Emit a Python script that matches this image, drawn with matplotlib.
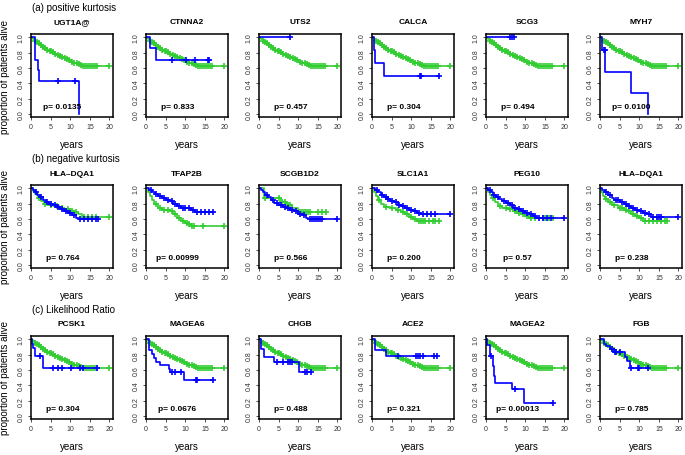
import numpy as np
import matplotlib
matplotlib.use("Agg")
import matplotlib.pyplot as plt

plt.rcParams['font.family'] = ['Liberation Sans', 'DejaVu Sans']

# green reference curve (rest of cohort), rows a and c
ga_t = [0.2, 0.5, 0.9, 1.3, 1.7, 2.1, 2.5, 3.0, 3.5, 4.0, 4.6, 5.3, 5.9, 6.5, 7.1,
        7.7, 8.3, 8.9, 9.5, 10.1, 10.7, 11.3, 11.9, 12.5, 13.0]
ga_s = [0.99, 0.975, 0.96, 0.945, 0.93, 0.915, 0.90, 0.88, 0.86, 0.84, 0.82, 0.805, 0.79,
        0.775, 0.76, 0.745, 0.73, 0.715, 0.70, 0.685, 0.67, 0.66, 0.65, 0.64, 0.625]
ga_c = [1.0, 1.5, 2.0, 2.5, 3.0, 3.6, 4.2, 4.8, 5.2, 5.7, 6.2, 6.8, 7.4, 8.0, 8.6, 9.2,
        9.8, 10.4, 11.0, 11.6, 12.2, 12.8, 13.3, 13.8, 14.3, 14.8, 15.3, 15.8, 16.3, 16.8, 20.0]

titles_a = ["UGT1A@", "CTNNA2", "UTS2", "CALCA", "SCG3", "MYH7"]
pvals_a = ["p= 0.0135", "p= 0.833", "p= 0.457", "p= 0.304", "p= 0.494", "p= 0.0100"]
titles_b = ["HLA\u2013DQA1", "TFAP2B", "SCGB1D2", "SLC1A1", "PEG10", "HLA\u2013DQA1"]
pvals_b = ["p= 0.764", "p= 0.00999", "p= 0.566", "p= 0.200", "p= 0.57", "p= 0.238"]
titles_c = ["PCSK1", "MAGEA6", "CHGB", "ACE2", "MAGEA2", "FGB"]
pvals_c = ["p= 0.304", "p= 0.0676", "p= 0.488", "p= 0.321", "p= 0.00013", "p= 0.785"]

# row a blue curves: event times, survival, censor times
a1_t, a1_s, a1_c = [1.1, 1.8, 2.1, 12.3], [0.71, 0.57, 0.43, 0.0], [6.8, 11.2]
a2_t, a2_s, a2_c = [1.1, 2.5], [0.86, 0.71], [6.5, 10.2, 12.6, 15.8, 16.0]
a3_t, a3_s, a3_c = [], [], [7.8]
a4_t, a4_s, a4_c = [0.6, 0.8, 3.0], [0.83, 0.67, 0.5], [12.3, 12.6, 17.2]
a5_t, a5_s, a5_c = [], [], [6.0, 6.6, 7.2]
a6_t, a6_s, a6_c = [0.5, 1.3, 7.8, 12.3], [0.83, 0.55, 0.28, 0.0], [1.0, 1.2]

# row b: both curves dense
b1g_t = [0.5, 1.0, 1.8, 2.5, 3.2, 4.0, 5.5, 7.0, 8.5, 10.0, 11.0, 12.0, 13.0]
b1g_s = [0.97, 0.93, 0.88, 0.84, 0.80, 0.78, 0.77, 0.75, 0.73, 0.71, 0.69, 0.66, 0.63]
b1g_c = [2.0, 3.5, 5.0, 6.5, 8.0, 9.5, 10.5, 11.5, 13.5, 14.5, 15.5, 16.5, 20.0]
b1b_t = [0.4, 0.9, 1.5, 2.2, 3.0, 3.8, 4.6, 5.5, 6.5, 7.5, 8.5, 9.5, 10.5, 11.5, 12.2]
b1b_s = [0.98, 0.95, 0.92, 0.89, 0.85, 0.82, 0.80, 0.78, 0.76, 0.73, 0.71, 0.68, 0.65, 0.62, 0.60]
b1b_c = [1.2, 2.5, 4.2, 5.0, 6.0, 7.0, 8.0, 9.0, 10.0, 11.0, 12.5, 13.5, 14.5, 15.5, 16.5, 17.0]

b2g_t = [0.5, 1.0, 1.5, 2.0, 3.0, 4.0, 6.0, 7.0, 8.0, 9.0, 10.0, 10.8, 11.5]
b2g_s = [0.95, 0.90, 0.85, 0.80, 0.75, 0.72, 0.70, 0.66, 0.62, 0.58, 0.55, 0.53, 0.51]
b2g_c = [2.5, 3.5, 4.5, 5.5, 6.5, 7.5, 8.5, 9.5, 10.5, 11.0, 11.8, 12.3, 14.5, 20.0]
b2b_t = [0.8, 1.5, 2.2, 3.0, 4.0, 5.0, 6.0, 7.0, 8.0, 9.0, 10.5, 11.5, 12.5]
b2b_s = [0.98, 0.96, 0.93, 0.90, 0.87, 0.85, 0.83, 0.80, 0.77, 0.75, 0.74, 0.72, 0.69]
b2b_c = [1.2, 2.5, 3.5, 4.5, 5.5, 6.5, 7.5, 8.5, 9.5, 10.0, 11.0, 12.0, 13.0, 14.0, 15.0, 16.0, 17.0]

b3g_t = [1.3, 5.5, 7.0, 8.5, 10.0]
b3g_s = [0.88, 0.82, 0.78, 0.74, 0.69]
b3g_c = [1.5, 5.0, 5.8, 6.5, 7.5, 8.0, 10.5, 11.0, 11.5, 12.0, 12.5, 13.0, 15.0, 16.0, 17.0]
b3b_t = [0.4, 0.9, 1.5, 2.2, 3.0, 3.8, 4.8, 6.0, 7.0, 8.0, 9.0, 10.0, 11.0, 12.0, 12.5]
b3b_s = [0.98, 0.95, 0.92, 0.89, 0.85, 0.81, 0.78, 0.76, 0.74, 0.72, 0.70, 0.67, 0.65, 0.62, 0.60]
b3b_c = [2.0, 3.5, 4.5, 5.5, 6.5, 7.5, 8.5, 9.5, 10.5, 11.5, 13.0, 13.5, 14.0, 14.5, 15.0, 15.5, 16.0, 20.0]

b4g_t = [0.5, 1.0, 1.5, 2.2, 3.0, 4.5, 6.0, 7.5, 8.5, 9.5, 10.5, 11.5]
b4g_s = [0.95, 0.90, 0.85, 0.80, 0.76, 0.74, 0.72, 0.69, 0.66, 0.63, 0.60, 0.58]
b4g_c = [1.8, 3.5, 5.0, 6.5, 8.0, 9.0, 10.0, 11.0, 12.0, 12.5, 13.0, 13.5, 14.5, 15.5, 16.0, 17.0]
b4b_t = [0.8, 1.5, 2.2, 3.0, 3.8, 4.6, 5.5, 6.5, 7.5, 8.5, 9.5, 10.5, 11.5, 12.2]
b4b_s = [0.98, 0.95, 0.92, 0.89, 0.86, 0.84, 0.82, 0.79, 0.77, 0.75, 0.72, 0.70, 0.68, 0.66]
b4b_c = [1.2, 2.5, 3.5, 4.2, 5.0, 6.0, 7.0, 8.0, 9.0, 10.0, 11.0, 12.0, 13.0, 14.0, 15.0, 16.0, 20.0]

b5g_t = [0.5, 1.0, 1.5, 2.2, 3.0, 4.0, 5.5, 7.0, 8.0, 9.0, 10.0, 11.0]
b5g_s = [0.95, 0.91, 0.87, 0.82, 0.77, 0.75, 0.73, 0.71, 0.68, 0.66, 0.64, 0.62]
b5g_c = [1.8, 3.5, 5.0, 6.0, 7.5, 8.5, 9.5, 10.5, 11.5, 12.5, 14.5, 15.0, 16.0, 17.0]
b5b_t = [0.6, 1.2, 1.8, 2.5, 3.2, 4.0, 5.0, 6.0, 7.0, 8.0, 9.0, 10.0, 11.0, 12.0, 12.8]
b5b_s = [0.98, 0.95, 0.92, 0.89, 0.86, 0.83, 0.81, 0.78, 0.75, 0.73, 0.71, 0.68, 0.66, 0.64, 0.62]
b5b_c = [1.0, 2.0, 3.0, 4.5, 5.5, 6.5, 7.5, 8.5, 9.5, 10.5, 11.5, 12.5, 13.5, 14.5, 15.5, 16.5, 20.0]

b6g_t = [0.3, 0.7, 1.2, 2.0, 3.0, 4.5, 6.0, 7.0, 8.0, 9.0, 10.0, 11.0]
b6g_s = [0.95, 0.90, 0.86, 0.82, 0.78, 0.75, 0.72, 0.70, 0.67, 0.64, 0.61, 0.58]
b6g_c = [1.5, 2.5, 3.5, 5.0, 5.5, 6.5, 7.5, 8.5, 9.5, 10.5, 11.5, 12.5, 13.5, 14.5, 15.5, 16.5, 17.0]
b6b_t = [0.6, 1.2, 2.0, 3.0, 3.5, 5.0, 6.0, 7.0, 8.0, 9.0, 10.0, 11.0, 12.0, 13.0]
b6b_s = [0.98, 0.95, 0.92, 0.88, 0.85, 0.82, 0.80, 0.77, 0.74, 0.72, 0.70, 0.68, 0.66, 0.63]
b6b_c = [1.5, 2.5, 4.0, 4.5, 5.5, 6.5, 7.5, 8.5, 9.5, 10.5, 11.5, 12.5, 13.5, 14.5, 15.0, 15.5, 20.0]

# row c blue curves
c1_t, c1_s, c1_c = [0.3, 0.5, 1.0, 3.1], [0.94, 0.89, 0.78, 0.63], [2.3, 5.6, 7.0, 7.8, 10.2, 12.6, 13.2, 16.8]
c2_t = [0.8, 1.5, 2.0, 2.5, 3.5, 5.8, 6.2, 9.7]
c2_s = [0.86, 0.81, 0.76, 0.71, 0.67, 0.62, 0.57, 0.47]
c2_c = [6.6, 7.5, 8.8, 12.8, 13.1, 17.0]
c3_t, c3_s, c3_c = [0.5, 1.2, 3.8, 10.2], [0.88, 0.77, 0.71, 0.57], [4.5, 6.0, 7.5, 8.0, 8.3, 11.6, 12.3, 13.2]
c4_t, c4_s, c4_c = [0.8, 3.5], [0.86, 0.78], [6.5, 11.2, 11.8, 12.3, 13.0, 15.8, 16.6]
c5_t = [0.3, 1.0, 1.7, 2.0, 2.3, 6.5, 9.8]
c5_s = [0.93, 0.78, 0.65, 0.52, 0.43, 0.35, 0.17]
c5_c = [1.4, 7.5, 17.0]
c6_t = [1.0, 1.6, 2.5, 3.5, 6.4, 6.8, 7.6]
c6_s = [0.94, 0.91, 0.88, 0.83, 0.77, 0.72, 0.63]
c6_c = [3.0, 3.9, 4.2, 5.2, 7.8, 9.6, 10.0, 12.3]

GREEN = "#32cd32"
BLUE = "#0000ff"

rows = [
    ("(a) positive kurtosis", titles_a, pvals_a,
     [((ga_t, ga_s, ga_c), (a1_t, a1_s, a1_c)),
      ((ga_t, ga_s, ga_c), (a2_t, a2_s, a2_c)),
      ((ga_t, ga_s, ga_c), (a3_t, a3_s, a3_c)),
      ((ga_t, ga_s, ga_c), (a4_t, a4_s, a4_c)),
      ((ga_t, ga_s, ga_c), (a5_t, a5_s, a5_c)),
      ((ga_t, ga_s, ga_c), (a6_t, a6_s, a6_c))]),
    ("(b) negative kurtosis", titles_b, pvals_b,
     [((b1g_t, b1g_s, b1g_c), (b1b_t, b1b_s, b1b_c)),
      ((b2g_t, b2g_s, b2g_c), (b2b_t, b2b_s, b2b_c)),
      ((b3g_t, b3g_s, b3g_c), (b3b_t, b3b_s, b3b_c)),
      ((b4g_t, b4g_s, b4g_c), (b4b_t, b4b_s, b4b_c)),
      ((b5g_t, b5g_s, b5g_c), (b5b_t, b5b_s, b5b_c)),
      ((b6g_t, b6g_s, b6g_c), (b6b_t, b6b_s, b6b_c))]),
    ("(c) Likelihood Ratio", titles_c, pvals_c,
     [((ga_t, ga_s, ga_c), (c1_t, c1_s, c1_c)),
      ((ga_t, ga_s, ga_c), (c2_t, c2_s, c2_c)),
      ((ga_t, ga_s, ga_c), (c3_t, c3_s, c3_c)),
      ((ga_t, ga_s, ga_c), (c4_t, c4_s, c4_c)),
      ((ga_t, ga_s, ga_c), (c5_t, c5_s, c5_c)),
      ((ga_t, ga_s, ga_c), (c6_t, c6_s, c6_c))]),
]


def km(ax, t, s, cens, col):
    x = np.array([0.0] + list(t))
    y = np.array([1.0] + list(s))
    end = max([x[-1]] + list(cens))
    ax.step(np.append(x, end), np.append(y, y[-1]), where="post", color=col, lw=1.2)
    if cens:
        cy = y[np.searchsorted(x, cens, side="right") - 1]
        ax.plot(cens, cy, ls="none", marker="+", ms=4.5, mew=1.2, color=col)


W, H = 685, 456
fig = plt.figure(figsize=(6.85, 4.56), dpi=100)
col_left = [31, 146, 259, 372, 486, 600]
row_top = [35, 186, 337]
bw, bh = 82, 83

for r, (label, titles, pvals, curves) in enumerate(rows):
    fig.text(32 / W, 1 - (row_top[r] - 27) / H, label, fontsize=7, va="center", ha="left")
    for c in range(6):
        ax = fig.add_axes([col_left[c] / W, 1 - (row_top[r] + bh) / H, bw / W, bh / H])
        green, blue = curves[c]
        km(ax, *green, GREEN)
        km(ax, *blue, BLUE)
        ax.set_xlim(0, 20.9)
        ax.set_ylim(-0.04, 1.045)
        ax.set_xticks([0, 5, 10, 15, 20])
        ax.set_yticks([0, 0.2, 0.4, 0.6, 0.8, 1.0])
        ax.set_yticklabels(["0.0", "0.2", "0.4", "0.6", "0.8", "1.0"], rotation=90, va="center")
        ax.tick_params(labelsize=5, length=2.5, width=0.6, pad=2, colors="#333333")
        for sp in ax.spines.values():
            sp.set_linewidth(1.1)
        ax.text(0.5, 1 + 12 / bh, titles[c], transform=ax.transAxes, fontsize=6,
                fontweight="bold", ha="center", va="center")
        ax.set_xlabel("years", fontsize=7, va="center")
        ax.xaxis.set_label_coords(0.5, -27 / bh)
        if c == 0:
            ax.set_ylabel("proportion of patients alive", fontsize=7, va="center")
            ax.yaxis.set_label_coords(-26 / bw, 0.5)
        ax.text(8, 0.1, pvals[c], fontsize=6, fontweight="bold", ha="center", va="center")

fig.savefig("out.png", dpi=100)
